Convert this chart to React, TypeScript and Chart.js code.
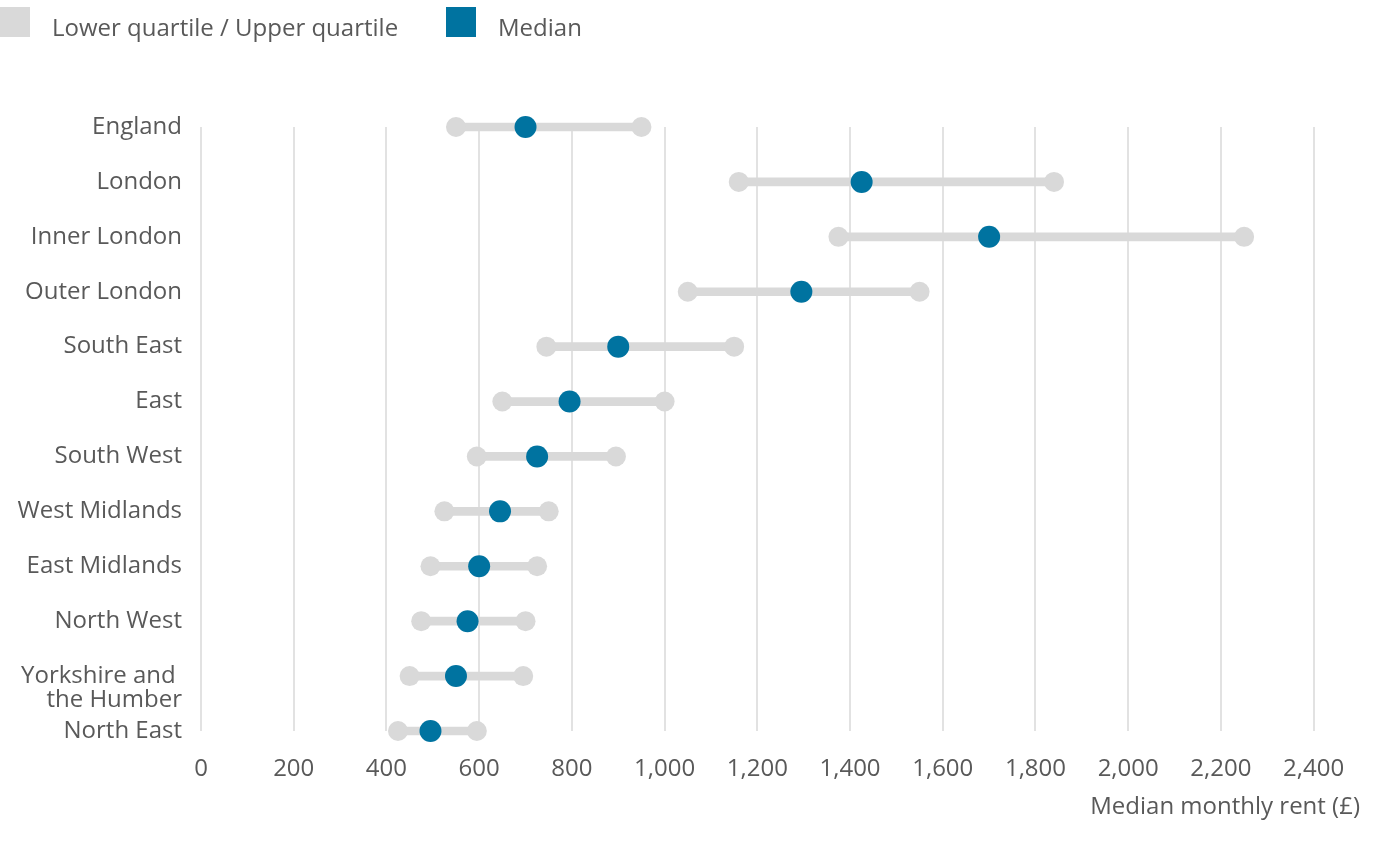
import React, { useEffect, useRef } from "react";
import { Chart, registerables } from "chart.js";

Chart.register(...registerables);

const categories: (string | string[])[] = [
  "England",
  "London",
  "Inner London",
  "Outer London",
  "South East",
  "East",
  "South West",
  "West Midlands",
  "East Midlands",
  "North West",
  ["", "Yorkshire and ", "the Humber"],
  "North East",
];

const lowerQuartile = [550, 1160, 1375, 1050, 745, 650, 595, 525, 495, 475, 450, 425];
const median = [700, 1425, 1700, 1295, 900, 795, 725, 645, 600, 575, 550, 495];
const upperQuartile = [950, 1840, 2250, 1550, 1150, 1000, 895, 750, 725, 700, 695, 595];

const xTicks = [0, 200, 400, 600, 800, 1000, 1200, 1400, 1600, 1800, 2000, 2200, 2400];
const legendLabels = ["Lower quartile / Upper quartile", "Median"];
const axisTitle = "Median monthly rent (£)";

const GREY = "#d9d9d9";
const BLUE = "#0073a0";
const TEXT = "#595959";
const FONT = "'Open Sans', sans-serif";

export default function App() {
  const ref = useRef<HTMLCanvasElement | null>(null);

  useEffect(() => {
    if (!ref.current) return;
    const keys = categories.map((_, i) => i);

    const chart = new Chart(ref.current, {
      type: "bar",
      data: {
        labels: categories as any,
        datasets: [
          {
            type: "bar",
            label: "range",
            data: lowerQuartile.map((v, i) => [v, upperQuartile[i]]) as any,
            backgroundColor: GREY,
            barThickness: 8,
            order: 3,
            clip: false as any,
          },
          {
            type: "line",
            label: "Lower quartile",
            data: keys.map((i) => ({ x: lowerQuartile[i], y: i })) as any,
            showLine: false,
            pointRadius: 10,
            pointBackgroundColor: GREY,
            pointBorderWidth: 0,
            order: 2,
            clip: false as any,
          },
          {
            type: "line",
            label: "Upper quartile",
            data: keys.map((i) => ({ x: upperQuartile[i], y: i })) as any,
            showLine: false,
            pointRadius: 10,
            pointBackgroundColor: GREY,
            pointBorderWidth: 0,
            order: 2,
            clip: false as any,
          },
          {
            type: "line",
            label: "Median",
            data: keys.map((i) => ({ x: median[i], y: i })) as any,
            showLine: false,
            pointRadius: 11,
            pointBackgroundColor: BLUE,
            pointBorderWidth: 0,
            order: 1,
            clip: false as any,
          },
        ],
      },
      options: {
        indexAxis: "y",
        animation: false,
        responsive: true,
        maintainAspectRatio: false,
        layout: { padding: { left: 0, right: 27, top: 127, bottom: 0 } },
        plugins: {
          tooltip: { enabled: false },
          legend: { display: false },
        },
        scales: {
          x: {
            type: "linear",
            min: 0,
            max: 2500,
            afterBuildTicks: (scale: any) => {
              scale.ticks = xTicks.map((v) => ({ value: v }));
            },
            afterFit: (scale: any) => {
              scale.height = 110;
            },
            ticks: {
              padding: 24,
              color: TEXT,
              font: { family: FONT, size: 24 },
              maxRotation: 0,
              autoSkip: false,
              callback: (v: any) => Number(v).toLocaleString("en-GB"),
            },
            grid: { color: "#e2e2e2", lineWidth: 2, drawTicks: false },
            border: { display: false },
            title: {
              display: true,
              text: axisTitle,
              align: "end",
              color: TEXT,
              font: { family: FONT, size: 24 },
              padding: { top: 0, bottom: 19 },
            },
          },
          y: {
            type: "category",
            offset: false,
            afterFit: (scale: any) => {
              scale.width = 201;
            },
            ticks: {
              padding: 19,
              autoSkip: false,
              color: TEXT,
              font: { family: FONT, size: 24, lineHeight: 1.0 },
            },
            grid: { display: false, offset: false, drawTicks: false },
            border: { display: false },
          },
        },
      },
    } as any);

    return () => chart.destroy();
  }, []);

  const textStyle: React.CSSProperties = {
    position: "absolute",
    top: 15,
    fontFamily: FONT,
    fontSize: 24,
    lineHeight: "24px",
    color: TEXT,
    whiteSpace: "nowrap",
  };
  const boxStyle: React.CSSProperties = {
    position: "absolute",
    top: 7,
    width: 30,
    height: 30,
  };

  return (
    <div style={{ position: "absolute", left: 0, top: 0, width: 1387, height: 841, background: "#fff" }}>
      <canvas ref={ref} />
      <div style={{ ...boxStyle, left: 0, background: GREY }} />
      <span style={{ ...textStyle, left: 52 }}>{legendLabels[0]}</span>
      <div style={{ ...boxStyle, left: 446, background: BLUE }} />
      <span style={{ ...textStyle, left: 498 }}>{legendLabels[1]}</span>
    </div>
  );
}
